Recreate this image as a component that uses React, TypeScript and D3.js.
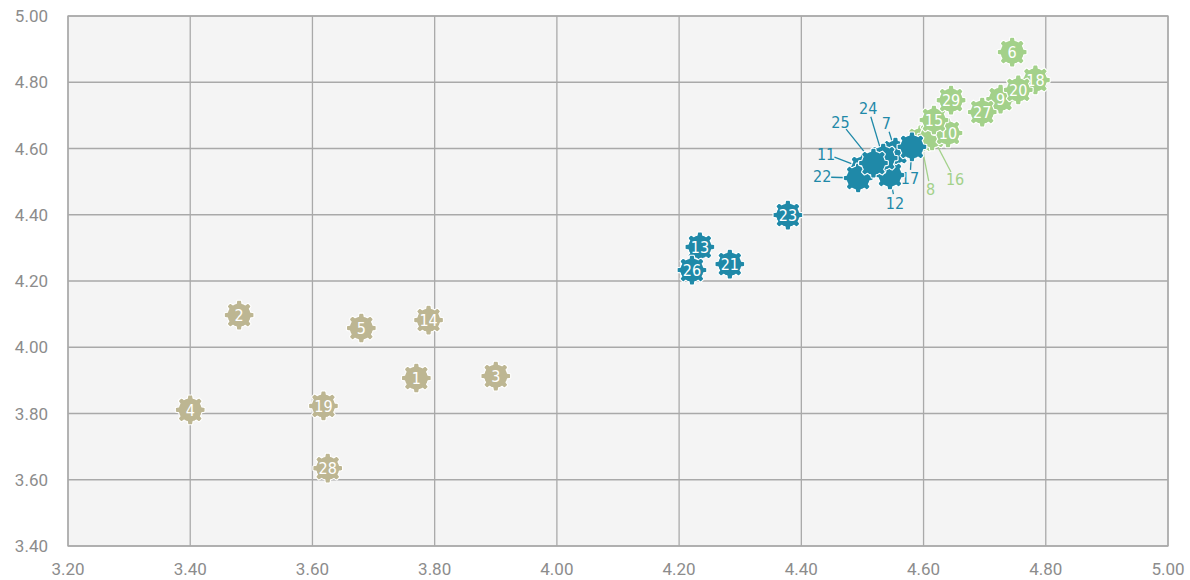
import React, { useRef, useEffect } from 'react';
import * as d3 from 'd3';

// point numbers, values
const pointIds = [1, 2, 3, 4, 5, 6, 7, 8, 9, 10, 11, 12, 13, 14, 15, 16, 17, 18, 19, 20, 21, 22, 23, 24, 25, 26, 27, 28, 29];
const xValues = [3.77, 3.48, 3.90, 3.40, 3.68, 4.745, 4.554, 4.595, 4.726, 4.640, 4.501, 4.545, 4.234, 3.790, 4.617, 4.614, 4.581, 4.783, 3.618, 4.755, 4.283, 4.493, 4.378, 4.534, 4.518, 4.221, 4.696, 3.625, 4.645];
const yValues = [3.907, 4.097, 3.913, 3.811, 4.058, 4.891, 4.589, 4.626, 4.749, 4.647, 4.541, 4.520, 4.303, 4.082, 4.686, 4.638, 4.605, 4.807, 3.823, 4.777, 4.251, 4.511, 4.399, 4.571, 4.556, 4.233, 4.710, 3.635, 4.746];
const groups = ['a', 'a', 'a', 'a', 'a', 'c', 'b', 'c', 'c', 'c', 'b', 'b', 'b', 'a', 'c', 'c', 'b', 'c', 'a', 'c', 'b', 'b', 'b', 'b', 'b', 'b', 'c', 'a', 'c'];

const xTicks = [3.2, 3.4, 3.6, 3.8, 4.0, 4.2, 4.4, 4.6, 4.8, 5.0];
const yTicks = [3.4, 3.6, 3.8, 4.0, 4.2, 4.4, 4.6, 4.8, 5.0];

const groupColor: Record<string, string> = { a: '#bdb692', b: '#1f89a8', c: '#a3d18a' };

// callout labels for the crowded cluster (pixel offsets from marker)
const callouts: Record<number, [number, number]> = {
    7: [-9, -29], 8: [10, 50], 11: [-37, -14], 12: [5, 28], 16: [23, 44],
    17: [-2, 32], 22: [-36, -1], 24: [-15, -50], 25: [-33, -41],
};
const drawFirst = [8, 16];

function gearPath(ro: number, ri: number, n: number) {
    const step = (Math.PI * 2) / n;
    const pts: [number, number][] = [];
    for (let i = 0; i < n; i++) {
        const a = i * step;
        pts.push([a - step * 0.3, ri]);
        pts.push([a - step * 0.24, ro - 1.2]);
        pts.push([a - step * 0.17, ro]);
        pts.push([a + step * 0.17, ro]);
        pts.push([a + step * 0.24, ro - 1.2]);
        pts.push([a + step * 0.3, ri]);
        pts.push([a + step * 0.5, ri]);
    }
    return d3.lineRadial().curve(d3.curveLinearClosed)(pts) as string;
}

const App: React.FC = () => {
    const ref = useRef<SVGSVGElement>(null);

    useEffect(() => {
        if (!ref.current) return;
        const width = 1190, height = 580;
        const margin = { top: 16, right: 22, bottom: 34, left: 68 };
        const innerWidth = width - margin.left - margin.right;
        const innerHeight = height - margin.top - margin.bottom;

        const container = d3.select(ref.current);
        container.selectAll('*').remove();
        const svg = container.append('g').attr('transform', `translate(${margin.left},${margin.top})`);

        const x = d3.scaleLinear().domain([3.2, 5.0]).range([0, innerWidth]);
        const y = d3.scaleLinear().domain([3.4, 5.0]).range([innerHeight, 0]);

        svg.append('rect')
            .attr('width', innerWidth).attr('height', innerHeight)
            .attr('fill', '#f4f4f4');

        // grid
        svg.append('g').selectAll('line').data(xTicks).enter().append('line')
            .attr('x1', d => x(d)).attr('x2', d => x(d))
            .attr('y1', 0).attr('y2', innerHeight)
            .attr('stroke', '#a9a9a9').attr('stroke-width', 1.3);
        svg.append('g').selectAll('line').data(yTicks).enter().append('line')
            .attr('y1', d => y(d)).attr('y2', d => y(d))
            .attr('x1', 0).attr('x2', innerWidth)
            .attr('stroke', '#a9a9a9').attr('stroke-width', 1.3);
        svg.append('rect')
            .attr('width', innerWidth).attr('height', innerHeight)
            .attr('fill', 'none').attr('stroke', '#a9a9a9').attr('stroke-width', 1.3);

        // tick labels
        svg.append('g').selectAll('text').data(xTicks).enter().append('text')
            .attr('x', d => x(d)).attr('y', innerHeight + 29)
            .attr('text-anchor', 'middle')
            .style('font-family', 'Roboto, sans-serif').style('font-size', '17px')
            .attr('fill', '#8c8c8c')
            .text(d => d.toFixed(2));
        svg.append('g').selectAll('text').data(yTicks).enter().append('text')
            .attr('x', -20).attr('y', d => y(d) + 6)
            .attr('text-anchor', 'end')
            .style('font-family', 'Roboto, sans-serif').style('font-size', '17px')
            .attr('fill', '#8c8c8c')
            .text(d => d.toFixed(2));

        const points = pointIds.map((id, i) => ({ id, x: xValues[i], y: yValues[i], g: groups[i] }));
        const ordered = [
            ...points.filter(p => drawFirst.includes(p.id)),
            ...points.filter(p => !drawFirst.includes(p.id)),
        ];
        const font = '"Liberation Sans Narrow", "DejaVu Sans Condensed", "Roboto", sans-serif';

        // leader lines
        const withCallout = points.filter(p => callouts[p.id]);
        svg.append('g').selectAll('line').data(withCallout).enter().append('line')
            .each(function (p) {
                const [dx, dy] = callouts[p.id];
                const len = Math.hypot(dx, dy);
                const s = 9 / len;
                d3.select(this)
                    .attr('x1', x(p.x) + dx - dx * s).attr('y1', y(p.y) + dy - dy * s)
                    .attr('x2', x(p.x)).attr('y2', y(p.y));
            })
            .attr('stroke', p => groupColor[p.g]).attr('stroke-width', 1.3);

        svg.append('g').selectAll('text').data(withCallout).enter().append('text')
            .attr('x', p => x(p.x) + callouts[p.id][0])
            .attr('y', p => y(p.y) + callouts[p.id][1] + 5.5)
            .attr('text-anchor', 'middle')
            .style('font-family', font).style('font-size', '16px')
            .attr('fill', p => groupColor[p.g])
            .text(p => p.id);

        // gear markers
        const gear = gearPath(15, 12, 8);
        const marks = svg.append('g').selectAll('g').data(ordered).enter().append('g')
            .attr('transform', p => `translate(${x(p.x)},${y(p.y)})`);
        marks.append('path')
            .attr('d', gear)
            .attr('fill', p => groupColor[p.g])
            .attr('stroke', '#ffffff').attr('stroke-width', 1.1)
            .attr('stroke-linejoin', 'round');
        marks.filter(p => !callouts[p.id]).append('text')
            .attr('y', 6)
            .attr('text-anchor', 'middle')
            .style('font-family', font).style('font-size', '16px')
            .attr('fill', '#ffffff')
            .text(p => p.id);
    }, []);

    return <svg ref={ref} width={1190} height={580} style={{ position: 'absolute', left: 0, top: 0, background: '#fff' }} />;
};

export default App;
